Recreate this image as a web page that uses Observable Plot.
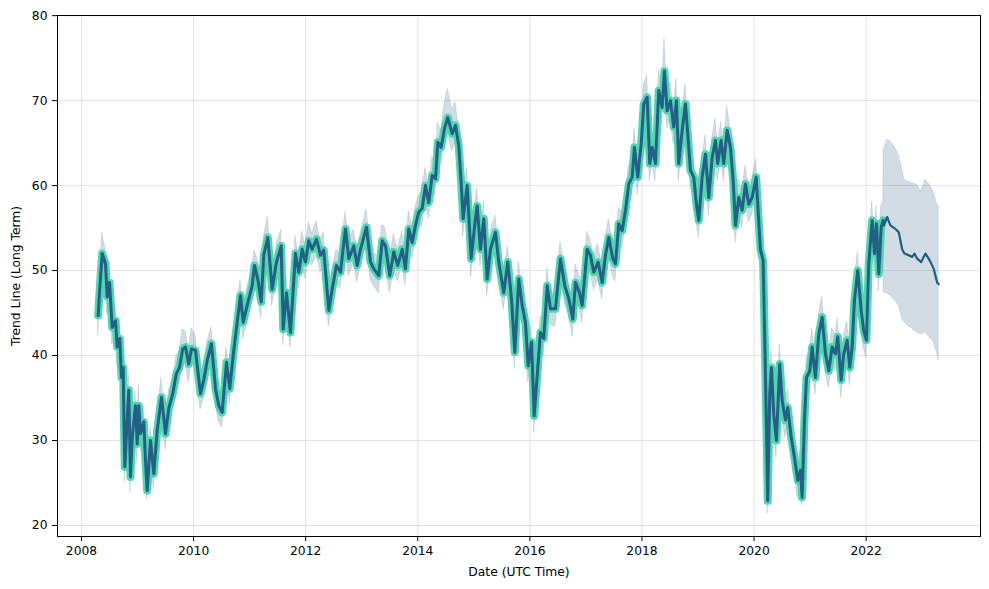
<!DOCTYPE html>
<html><head><meta charset="utf-8">
<script src="https://cdn.jsdelivr.net/npm/d3@7"></script>
<script src="https://cdn.jsdelivr.net/npm/@observablehq/plot@0.6"></script>
<style>html,body{margin:0;padding:0;background:#fff} svg{display:block}</style>
</head><body><div id="chart"></div>
<script>
// Historical period (decimal years) with observed value and uncertainty band
const histYear = [
2008.298,2008.321,2008.369,2008.428,2008.459,2008.500,2008.548,2008.607,2008.637,2008.683,2008.714,2008.744,2008.755,2008.773,2008.815,2008.844,2008.874,2008.905,2008.963,2008.994,2009.022,2009.053,2009.112,2009.142,2009.172,2009.231,2009.290,2009.351,2009.427,2009.499,2009.558,2009.629,2009.690,2009.748,2009.807,2009.855,2009.914,2009.963,2010.034,2010.123,2010.182,2010.243,2010.319,
2010.391,2010.450,2010.510,2010.587,2010.646,2010.706,2010.778,2010.837,2010.885,2010.956,2011.045,2011.087,2011.145,2011.206,2011.252,2011.324,2011.402,2011.479,2011.563,2011.599,2011.657,2011.729,2011.818,2011.877,2011.938,2011.996,2012.055,2012.116,2012.193,2012.264,2012.323,2012.412,2012.473,2012.549,2012.621,2012.680,
2012.710,2012.769,2012.858,2012.919,2012.978,2013.085,2013.156,2013.215,2013.304,2013.365,2013.424,2013.500,2013.572,2013.643,2013.722,2013.780,2013.839,2013.900,2013.959,2014.018,2014.078,2014.137,2014.196,2014.257,2014.316,2014.357,2014.417,2014.476,2014.535,2014.614,2014.673,2014.731,2014.774,2014.810,2014.881,2014.953,2015.029,
2015.060,2015.119,2015.178,2015.238,2015.297,2015.386,2015.445,2015.534,2015.606,2015.672,2015.731,2015.802,2015.863,2015.921,2015.970,2016.029,2016.077,2016.130,2016.189,2016.248,2016.309,2016.367,2016.457,2016.546,2016.623,2016.694,2016.766,2016.814,2016.885,2016.933,2017.022,2017.081,2017.140,2017.218,2017.290,2017.349,2017.408,2017.479,
2017.527,2017.586,2017.647,2017.706,2017.765,2017.825,2017.866,2017.925,2017.986,2018.032,2018.093,2018.139,2018.182,2018.241,2018.300,2018.360,2018.401,2018.449,2018.508,2018.567,2018.615,2018.656,2018.717,2018.776,2018.817,2018.865,2018.924,2018.972,2019.013,2019.074,2019.133,2019.192,2019.252,2019.311,2019.352,2019.413,2019.459,2019.520,2019.579,2019.627,2019.668,2019.727,2019.788,2019.847,2019.905,2019.966,2020.037,
2020.114,2020.162,2020.186,2020.221,2020.244,2020.280,2020.310,2020.351,2020.399,2020.458,2020.501,2020.560,2020.601,2020.662,2020.721,2020.780,2020.828,2020.858,2020.899,2020.935,2020.994,2021.036,2021.095,2021.154,2021.215,2021.274,2021.333,2021.393,2021.452,2021.493,2021.554,2021.600,2021.661,2021.707,2021.750,2021.791,2021.850,2021.911,2021.957,2022.005,2022.046,2022.107,2022.148,2022.184,2022.225,2022.268,2022.303
];
const histValue = [
44.7,47.4,52.0,50.8,46.9,48.6,43.3,44.1,41.0,42.0,37.4,38.6,33.2,26.9,32.4,35.9,25.7,30.4,34.1,29.6,34.1,30.8,32.2,27.6,24.1,30.0,26.1,31.2,35.1,30.8,33.8,35.5,37.8,38.6,40.8,41.0,39.0,40.8,40.6,35.5,37.1,39.4,41.4,
36.1,34.1,33.3,39.2,36.1,40.0,43.9,47.1,43.9,45.9,48.2,50.6,49.0,46.3,51.8,53.9,47.8,51.0,52.9,43.1,47.4,42.7,52.0,49.8,52.5,51.0,53.5,52.5,53.7,51.8,52.4,45.3,47.8,50.6,49.8,53.3,
54.9,51.4,52.9,50.6,52.5,55.1,51.0,50.2,49.4,53.5,52.9,49.4,52.2,50.6,52.5,50.2,54.9,53.3,55.3,56.9,57.3,60.0,58.0,61.2,60.8,65.1,64.5,66.7,68.0,66.1,67.1,64.7,60.4,56.1,60.0,51.4,56.1,
57.6,52.5,56.1,49.0,52.5,54.5,51.0,47.4,51.0,46.7,40.4,49.0,45.9,43.9,38.8,41.6,32.9,37.6,42.7,42.0,48.2,45.5,45.5,51.4,48.2,46.7,44.3,48.6,47.4,45.9,52.5,51.8,49.8,51.0,48.6,51.8,53.9,51.4,
50.8,55.5,54.7,57.1,60.2,61.0,64.5,61.0,64.9,69.6,70.4,62.6,64.5,62.6,71.2,69.2,73.5,68.8,70.0,66.9,70.0,62.6,66.5,69.6,66.1,61.8,61.0,57.8,55.9,61.0,63.7,58.6,63.3,65.3,62.6,65.3,62.6,66.5,64.5,60.6,55.3,58.6,57.1,60.2,57.8,58.6,61.0,
52.4,51.2,43.3,31.6,22.9,35.5,38.6,33.1,30.0,39.0,34.7,32.4,33.9,30.4,28.0,25.3,26.5,23.3,32.4,37.4,38.2,41.0,37.4,42.5,44.5,40.2,38.2,41.0,40.2,42.2,37.1,40.2,41.8,38.6,41.0,46.5,50.0,45.3,42.9,41.8,50.8,55.9,52.0,55.5,49.6,55.1,55.9
];
const histUpper = [
46.4,49.3,54.4,52.6,48.5,50.9,45.0,46.2,42.6,44.3,39.2,40.4,35.6,28.7,34.1,38.0,27.4,32.6,35.8,31.5,36.5,32.6,34.0,29.9,25.8,31.7,28.3,33.0,37.4,32.5,35.9,37.2,39.9,40.5,43.1,42.9,40.8,43.2,42.4,37.3,39.0,41.6,43.3,
38.0,35.8,35.6,41.0,38.2,41.8,46.1,48.9,45.7,48.0,50.3,52.4,51.2,48.1,53.9,56.3,49.6,53.1,54.8,45.0,49.3,44.6,54.1,51.7,54.6,52.9,55.7,54.4,55.8,53.6,54.5,47.2,49.9,52.5,51.9,55.3,
56.9,53.6,54.8,52.8,54.4,57.2,53.1,52.1,51.6,55.4,55.0,51.3,54.3,52.5,54.6,52.1,57.0,55.2,57.5,58.8,59.5,62.1,60.0,63.4,62.7,67.4,66.5,69.6,71.4,68.9,69.8,66.9,62.4,58.2,62.1,53.5,58.1,
59.7,54.4,58.2,51.0,54.6,56.5,53.1,49.5,52.9,48.8,42.5,51.1,47.8,46.0,40.9,43.5,35.0,39.7,44.6,44.1,50.3,47.4,47.6,53.4,50.3,48.6,46.4,50.7,49.5,47.8,54.6,53.7,51.9,53.1,50.5,53.9,56.0,53.3,
52.9,57.4,56.8,59.2,62.3,63.0,66.7,63.1,67.0,71.8,73.0,64.7,66.6,64.8,73.6,71.4,77.3,71.0,72.2,69.1,72.6,64.8,68.7,72.0,68.3,64.0,63.2,60.0,58.1,63.2,65.9,60.8,65.5,67.9,64.8,67.5,64.8,69.3,66.7,62.8,57.5,60.8,59.3,62.4,60.0,60.8,63.2,
54.5,53.3,45.4,33.8,25.1,37.9,40.8,35.3,32.2,41.3,36.9,34.6,36.1,32.6,30.2,27.5,28.7,25.5,34.6,39.6,40.6,43.2,39.6,44.7,46.9,42.4,40.4,43.2,42.4,44.4,39.3,42.4,44.0,40.8,43.2,48.7,52.2,47.5,45.1,44.0,53.0,58.1,54.2,57.7,51.8,57.6,58.1
];
const histLower = [
42.4,45.6,50.2,48.8,44.9,46.7,41.3,42.3,38.8,40.2,35.3,36.6,31.2,24.9,30.5,33.9,23.8,28.5,32.2,27.5,32.3,28.8,30.1,25.7,23.0,28.0,24.3,29.3,33.3,28.9,31.9,33.6,35.9,36.7,39.0,39.1,36.8,38.9,38.6,33.6,35.1,37.5,39.6,
34.2,32.2,31.5,37.3,34.2,38.0,42.0,45.2,41.9,43.9,46.3,48.6,47.0,44.4,49.8,51.8,45.8,49.1,50.9,41.2,45.5,40.9,50.0,47.8,50.6,49.0,51.6,50.6,51.7,49.8,50.5,43.4,45.9,48.6,47.8,51.4,
52.9,49.3,50.9,48.6,50.5,53.1,48.9,48.2,47.3,51.5,50.8,47.4,50.1,48.7,50.5,48.2,52.8,51.3,53.3,54.9,55.2,58.0,56.0,59.1,58.8,63.0,62.5,64.6,66.0,64.0,65.0,62.7,58.4,54.0,58.0,49.3,54.1,
55.6,50.4,54.1,47.0,50.4,52.5,48.9,45.4,48.9,44.6,38.4,46.9,43.8,41.8,36.8,39.6,30.9,35.6,40.6,39.9,46.1,43.5,43.4,49.3,46.1,44.7,42.2,46.5,45.4,43.8,50.4,49.8,47.7,48.9,46.6,49.7,51.8,49.4,
48.7,53.4,52.6,55.0,58.1,58.9,62.4,58.9,62.8,67.5,68.3,60.5,62.4,60.5,69.1,67.1,71.4,66.7,67.9,64.8,67.9,60.5,64.4,67.5,64.0,59.7,58.9,55.7,53.8,58.9,61.6,56.5,61.2,63.2,60.5,63.2,60.5,64.4,62.4,58.5,53.2,56.5,55.0,58.1,55.7,56.5,58.9,
50.3,49.1,41.2,29.5,21.4,33.4,36.5,31.0,27.9,36.9,32.6,30.3,31.8,28.3,25.9,23.2,24.4,22.3,30.3,35.3,36.1,38.9,35.3,40.4,42.4,38.1,36.1,38.9,38.1,40.1,35.0,38.1,39.7,36.5,38.9,44.4,47.9,43.2,40.8,39.7,48.7,53.8,49.9,53.4,47.5,53.0,53.8
];
// Forecast period
const fcYear  = [2022.314,2022.375,2022.434,2022.523,2022.582,2022.642,2022.683,2022.760,2022.821,2022.862,2022.910,2022.981,2023.058,2023.134,2023.206,2023.266,2023.295];
const fcValue = [55.3,56.3,55.3,54.9,54.5,52.5,52.0,51.8,51.6,52.0,51.4,51.0,52.0,51.2,50.2,48.6,48.4];
const fcUpper = [64.2,65.4,65.2,64.4,63.6,61.9,60.7,60.4,60.3,60.2,60.1,59.3,60.7,60.1,59.2,57.8,57.6];
const fcLower = [47.4,47.3,47.0,46.4,45.9,44.3,43.9,43.4,43.2,42.9,42.7,42.5,42.7,42.1,41.6,40.2,39.4];

const xTicks = [2008, 2010, 2012, 2014, 2016, 2018, 2020, 2022];
const yTicks = [20, 30, 40, 50, 60, 70, 80];
const xLabel = "Date (UTC Time)";
const yLabel = "Trend Line (Long Term)";

const n = Math.min(histYear.length, histValue.length, histUpper.length, histLower.length);
const hist = d3.range(n).map(i => ({t: histYear[i], v: histValue[i], hi: histUpper[i], lo: histLower[i]}));
const fc = fcYear.map((t, i) => ({t, v: fcValue[i], hi: fcUpper[i], lo: fcLower[i]}));
const all = hist.concat(fc);
const fcLine = [hist[hist.length - 1]].concat(fc);

const chart = Plot.plot({
  width: 989, height: 589,
  marginLeft: 57, marginRight: 9, marginTop: 15, marginBottom: 53,
  style: {fontFamily: "'DejaVu Sans', sans-serif", fontSize: "12.3px", color: "#000", background: "#fff", overflow: "visible"},
  x: {type: "linear", domain: [2007.572, 2024.04], label: null},
  y: {domain: [18.7, 80.02], label: null},
  marks: [
    Plot.gridX(xTicks, {stroke: "#b0b0b0", strokeOpacity: 0.35, strokeWidth: 1}),
    Plot.gridY(yTicks, {stroke: "#b0b0b0", strokeOpacity: 0.35, strokeWidth: 1}),
    Plot.areaY(all, {x: "t", y1: "lo", y2: "hi", fill: "#1a5276", fillOpacity: 0.2, stroke: "#1a5276", strokeOpacity: 0.12, strokeWidth: 1, curve: "linear"}),
    Plot.line(hist, {x: "t", y: "v", stroke: "#52d6b0", strokeWidth: 8, strokeLinejoin: "round", strokeLinecap: "round", curve: "linear"}),
    Plot.line(hist, {x: "t", y: "v", stroke: "#236085", strokeWidth: 3, strokeLinejoin: "round", strokeLinecap: "round", curve: "linear"}),
    Plot.line(fcLine, {x: "t", y: "v", stroke: "#1f5f82", strokeWidth: 2.2, strokeLinejoin: "round", strokeLinecap: "round", curve: "linear"}),
    Plot.frame({stroke: "#000", strokeWidth: 1}),
    Plot.axisX(xTicks, {tickSize: 5, tickPadding: 5, tickFormat: d => String(d), label: null}),
    Plot.axisY(yTicks, {tickSize: 5, tickPadding: 5, label: null}),
    Plot.text([xLabel], {frameAnchor: "bottom", dy: 36, lineAnchor: "middle", textAnchor: "middle", fill: "#000"}),
    Plot.text([yLabel], {frameAnchor: "left", dx: -41, rotate: -90, lineAnchor: "middle", textAnchor: "middle", fill: "#000"})
  ]
});
document.getElementById("chart").appendChild(chart);
</script>
</body></html>
